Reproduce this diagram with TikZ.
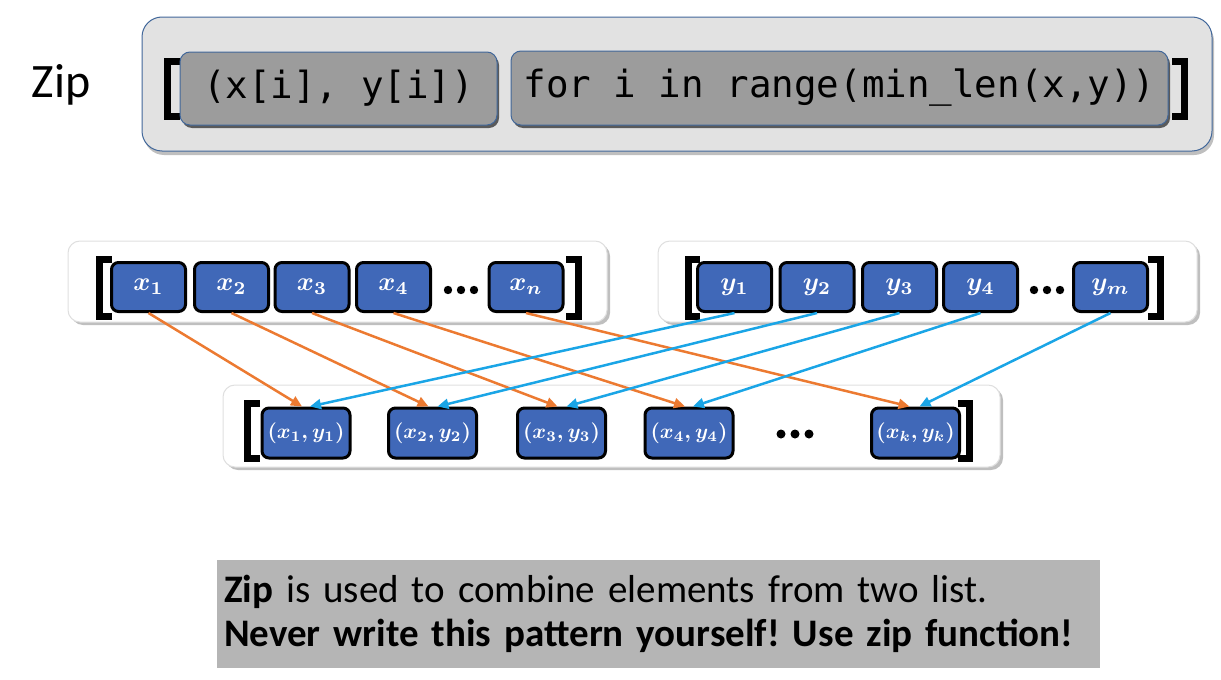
\documentclass[tikz,border=0pt]{standalone}
\usepackage{graphicx}
\usepackage{fontspec}
\setmainfont{Carlito}
\newfontfamily\codefont{DejaVu Sans Mono}
\usetikzlibrary{shadows,arrows.meta}
\definecolor{outerfill}{HTML}{E2E2E2}
\definecolor{outerborder}{HTML}{41679A}
\definecolor{codefill}{HTML}{9C9C9C}
\definecolor{boxblue}{HTML}{4068B8}
\definecolor{arrorange}{HTML}{EC7A31}
\definecolor{arrblue}{HTML}{1AA5E6}
\definecolor{notefill}{HTML}{B5B5B5}
\newcommand{\elm}[1]{\raisebox{-4pt}{\scalebox{2.6}{\boldmath$#1$}}}
\newcommand{\prm}[1]{\raisebox{-1pt}{\scalebox{2.1}{\boldmath$#1$}}}
\tikzset{
  outerbox/.style={draw=outerborder, line width=1pt, fill=outerfill, rounded corners=20pt,
    drop shadow={shadow xshift=2pt, shadow yshift=-4pt, fill=gray, opacity=0.5}},
  codebox/.style={draw=outerborder, line width=1pt, fill=codefill, rounded corners=10pt,
    drop shadow={shadow xshift=2pt, shadow yshift=-3pt, fill=black, opacity=0.6},
    inner sep=0pt, font=\codefont\fontsize{37.5}{40}\selectfont},
  listbox/.style={draw=gray!25, line width=1pt, fill=white, rounded corners=12pt,
    drop shadow={shadow xshift=3pt, shadow yshift=-3pt, fill=gray, opacity=0.5}},
  elem/.style={draw=black, line width=3pt, fill=boxblue, rounded corners=7pt,
    minimum width=74pt, minimum height=49pt, text=white, inner sep=0pt},
  pair/.style={elem, minimum width=88pt, minimum height=50pt},
  bracket/.style={line width=7pt, line join=miter, line cap=butt},
  orarr/.style={draw=arrorange, line width=2.5pt, -{Triangle[length=11pt, width=10pt]}},
  blarr/.style={draw=arrblue, line width=2.5pt, -{Triangle[length=11pt, width=10pt]}},
  dot/.style={fill=black, draw=none},
}
\begin{document}
\begin{tikzpicture}[x=1pt, y=-1pt]
\useasboundingbox (0,0) rectangle (1221,680);
% ---------- top ----------
\node[font=\fontsize{48}{52}\selectfont] (ziplabel) at (61,85) {Zip};
\node[outerbox, minimum width=1070pt, minimum height=134pt] (outer) at (677,84) {};
\draw[bracket] (180,61.5) -- (167,61.5) -- (167,116.5) -- (180,116.5);
\draw[bracket] (1172,61.5) -- (1184,61.5) -- (1184,116.5) -- (1172,116.5);
\node[codebox, minimum width=317pt, minimum height=73pt] (expr) at (338.5,88.5) {(x[i], y[i])};
\node[codebox, minimum width=657pt, minimum height=74pt] (loop) at (839.5,88) {for i in range(min\textunderscore len(x,y))};
% ---------- x list ----------
\node[listbox, minimum width=539pt, minimum height=81pt] (xlist) at (337.5,281.5) {};
\draw[bracket] (112,259.5) -- (99,259.5) -- (99,316.5) -- (112,316.5);
\draw[bracket] (566,259.5) -- (578,259.5) -- (578,316.5) -- (566,316.5);
\node[elem] (x1) at (148.5,287) {\elm{x_1}};
\node[elem] (x2) at (231.5,287) {\elm{x_2}};
\node[elem] (x3) at (312,287) {\elm{x_3}};
\node[elem] (x4) at (393.5,287) {\elm{x_4}};
\node[elem] (xn) at (526,287) {\elm{x_n}};
\foreach \cx in {448,461,474} \fill[dot] (\cx,290) circle (4.2pt);
% ---------- y list ----------
\node[listbox, minimum width=539pt, minimum height=81pt] (ylist) at (927.5,281.5) {};
\draw[bracket] (700,259.5) -- (688,259.5) -- (688,316.5) -- (700,316.5);
\draw[bracket] (1148,259.5) -- (1160,259.5) -- (1160,316.5) -- (1148,316.5);
\node[elem] (y1) at (734.5,287) {\elm{y_1}};
\node[elem] (y2) at (817,287) {\elm{y_2}};
\node[elem] (y3) at (899.5,287) {\elm{y_3}};
\node[elem] (y4) at (980.5,287) {\elm{y_4}};
\node[elem] (ym) at (1110.5,287) {\elm{y_m}};
\foreach \cx in {1034,1047,1060} \fill[dot] (\cx,290) circle (4.2pt);
% ---------- pair list ----------
\node[listbox, minimum width=777pt, minimum height=82pt] (plist) at (611.5,426) {};
\draw[bracket] (260,403.5) -- (247,403.5) -- (247,458.5) -- (260,458.5);
\draw[bracket] (958,403.5) -- (969,403.5) -- (969,458.5) -- (958,458.5);
\node[pair] (p1) at (306,433) {\prm{(x_1,y_1)}};
\node[pair] (p2) at (432.5,433) {\prm{(x_2,y_2)}};
\node[pair] (p3) at (561.5,433) {\prm{(x_3,y_3)}};
\node[pair] (p4) at (689,433) {\prm{(x_4,y_4)}};
\node[pair] (pk) at (915.5,433) {\prm{(x_k,y_k)}};
\foreach \cx in {781,795,809} \fill[dot] (\cx,434) circle (4.5pt);
% ---------- arrows ----------
\draw[orarr] (x1.south) -- ([xshift=-4pt]p1.north);
\draw[orarr] (x2.south) -- ([xshift=-4pt]p2.north);
\draw[orarr] (x3.south) -- ([xshift=-4pt]p3.north);
\draw[orarr] (x4.south) -- ([xshift=-4pt]p4.north);
\draw[orarr] (xn.south) -- ([xshift=-6pt]pk.north);
\draw[blarr] (y1.south) -- ([xshift=4pt]p1.north);
\draw[blarr] (y2.south) -- ([xshift=5pt]p2.north);
\draw[blarr] (y3.south) -- ([xshift=5pt]p3.north);
\draw[blarr] (y4.south) -- ([xshift=4pt]p4.north);
\draw[blarr] (ym.south) -- ([xshift=4pt]pk.north);
% ---------- note ----------
\node[fill=notefill, minimum width=883pt, minimum height=108pt, text width=869pt,
  align=left, inner sep=7pt, font=\fontsize{39}{44}\selectfont] (note) at (658.5,614)
  {\frenchspacing\textbf{Zip} is used to combine elements from two list.\\
   \textbf{Never write this pattern yourself! Use zip function!}};
\end{tikzpicture}
\end{document}
